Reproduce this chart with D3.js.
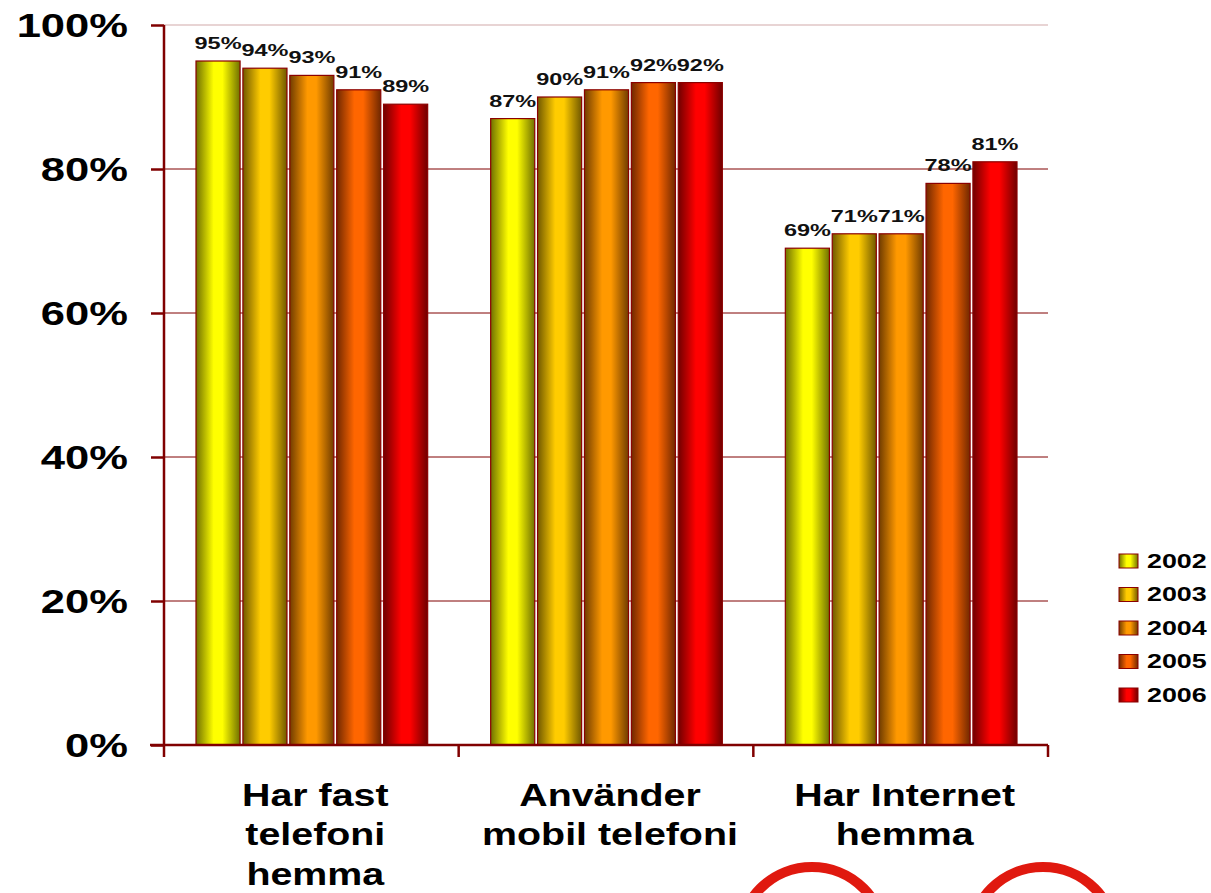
<!DOCTYPE html>
<html>
<head>
<meta charset="utf-8">
<script src="https://cdn.jsdelivr.net/npm/d3@7"></script>
<style>
  body { margin: 0; background: #fff; }
  text { font-family: "Liberation Sans", Arial, sans-serif; font-weight: bold; }
</style>
</head>
<body>
<div id="chart"></div>
<script>
var width = 1211;
var height = 893;

// data
var categories = [["Har fast", "telefoni", "hemma"], ["Använder", "mobil telefoni"], ["Har Internet", "hemma"]];
var years = ["2002", "2003", "2004", "2005", "2006"];
var values = [
  [95, 94, 93, 91, 89],
  [87, 90, 91, 92, 92],
  [69, 71, 71, 78, 81]
];
var yTicks = [0, 20, 40, 60, 80, 100];
var colors = ["#ffff00", "#ffcc00", "#ff9900", "#ff6600", "#ff0000"];
var edges = ["#707000", "#705800", "#703c00", "#702800", "#700000"];

var svg = d3.select("#chart")
    .append("svg")
    .attr("width", width)
    .attr("height", height);

var margin = {top: 25, left: 164, right: 163, bottom: 148};

// text in the reference is drawn wide, so stretch it sideways
var sxTick = 1.32, sxCat = 1.23, sxVal = 1.38, sxLeg = 1.28;

var x0 = d3.scaleBand()
    .domain(d3.range(categories.length))
    .range([margin.left, width - margin.right])
    .paddingInner(0)
    .paddingOuter(0);

var x1 = d3.scaleBand()
    .domain(years)
    .range([32, x0.bandwidth() - 31])
    .paddingInner(0.06);

var y = d3.scaleLinear().domain([0, 100]).range([height - margin.bottom, margin.top]);

// gradients
var defs = svg.append("defs");
years.forEach(function(yr, i) {
  var g = defs.append("linearGradient").attr("id", "g" + yr)
      .attr("x1", "0").attr("x2", "1").attr("y1", "0").attr("y2", "0");
  g.append("stop").attr("offset", "0%").attr("stop-color", edges[i]);
  g.append("stop").attr("offset", "40%").attr("stop-color", colors[i]);
  g.append("stop").attr("offset", "60%").attr("stop-color", colors[i]);
  g.append("stop").attr("offset", "100%").attr("stop-color", edges[i]);
});

// gridlines
svg.append("g").selectAll("line")
  .data(yTicks.filter(function(d) { return d > 0; }))
  .enter().append("line")
    .attr("x1", margin.left).attr("x2", width - margin.right)
    .attr("y1", function(d) { return y(d); })
    .attr("y2", function(d) { return y(d); })
    .attr("stroke", function(d) { return d == 100 ? "#e8d4d4" : "#800000"; })
    .attr("stroke-width", function(d) { return d == 100 ? 2 : 1; });

// bars
var groups = svg.append("g").selectAll("g")
  .data(values)
  .enter().append("g")
    .attr("transform", function(d, i) { return "translate(" + x0(i) + ",0)"; });

groups.selectAll("rect")
  .data(function(d) { return d.map(function(v, j) { return {year: years[j], v: v}; }); })
  .enter().append("rect")
    .attr("x", function(d) { return x1(d.year); })
    .attr("y", function(d) { return y(d.v); })
    .attr("width", x1.bandwidth())
    .attr("height", function(d) { return y(0) - y(d.v); })
    .attr("fill", function(d) { return "url(#g" + d.year + ")"; })
    .attr("stroke", "#8b0000")
    .attr("stroke-width", 1.2);

groups.selectAll("text")
  .data(function(d) { return d.map(function(v, j) { return {year: years[j], v: v}; }); })
  .enter().append("text")
    .attr("transform", "scale(" + sxVal + ",1)")
    .attr("x", function(d) { return (x1(d.year) + x1.bandwidth() / 2) / sxVal; })
    .attr("y", function(d) { return y(d.v) - 12; })
    .attr("text-anchor", "middle")
    .style("font-size", "17px")
    .attr("fill", "#111")
    .text(function(d) { return d.v + "%"; });

// Y axis
var yAxis = svg.append("g")
    .attr("transform", "translate(" + margin.left + ",0)")
    .call(d3.axisLeft(y).tickValues(yTicks).tickSize(13)
      .tickFormat(function(d) { return d + "%"; }));
yAxis.select(".domain").attr("stroke", "#800000").attr("stroke-width", 2.5)
    .attr("d", "M0," + y(100) + "V" + y(0));
yAxis.selectAll(".tick line").attr("stroke", "#800000").attr("stroke-width", 2.5);
yAxis.selectAll(".tick text")
    .attr("transform", "scale(" + sxTick + ",1)")
    .attr("x", -36 / sxTick)
    .attr("dy", "0.36em")
    .style("font-size", "33px").attr("fill", "#000")
    .attr("font-family", "Liberation Sans, Arial, sans-serif")
    .attr("font-weight", "bold");

// X axis
var xAxis = svg.append("g").attr("transform", "translate(0," + y(0) + ")");
xAxis.append("line")
    .attr("x1", margin.left - 14).attr("x2", width - margin.right)
    .attr("stroke", "#800000").attr("stroke-width", 2.5);
xAxis.selectAll("line.tk")
  .data(d3.range(categories.length + 1))
  .enter().append("line").attr("class", "tk")
    .attr("x1", function(i) { return i < categories.length ? x0(i) : x0(i - 1) + x0.bandwidth(); })
    .attr("x2", function(i) { return i < categories.length ? x0(i) : x0(i - 1) + x0.bandwidth(); })
    .attr("y1", 0).attr("y2", 12)
    .attr("stroke", "#800000").attr("stroke-width", 2.5);

var labels = xAxis.selectAll("text.cat")
  .data(categories)
  .enter().append("text").attr("class", "cat")
    .attr("transform", "scale(" + sxCat + ",1)")
    .attr("text-anchor", "middle")
    .style("font-size", "32px")
    .attr("fill", "#000");
labels.selectAll("tspan")
  .data(function(d, i) { return d.map(function(t) { return {t: t, i: i}; }); })
  .enter().append("tspan")
    .attr("x", function(d) { return (x0(d.i) + x0.bandwidth() / 2 + 4) / sxCat; })
    .attr("y", function(d, k) { return 61 + k * 39.5; })
    .text(function(d) { return d.t; });

// legend
var legend = svg.append("g").attr("transform", "translate(1119,554)");
years.forEach(function(yr, i) {
  legend.append("rect")
    .attr("x", 0).attr("y", i * 33.5)
    .attr("width", 19).attr("height", 14)
    .attr("fill", "url(#g" + yr + ")")
    .attr("stroke", "#8b0000").attr("stroke-width", 1);
  legend.append("text")
    .attr("transform", "scale(" + sxLeg + ",1)")
    .attr("x", 28 / sxLeg).attr("y", i * 33.5 + 14)
    .style("font-size", "21px")
    .text(yr);
});

// decoration at bottom
svg.append("circle").attr("cx", 812).attr("cy", 940).attr("r", 73)
    .attr("fill", "none").attr("stroke", "#e0190f").attr("stroke-width", 10);
svg.append("circle").attr("cx", 1043).attr("cy", 940).attr("r", 73)
    .attr("fill", "none").attr("stroke", "#e0190f").attr("stroke-width", 10);
</script>
</body>
</html>
